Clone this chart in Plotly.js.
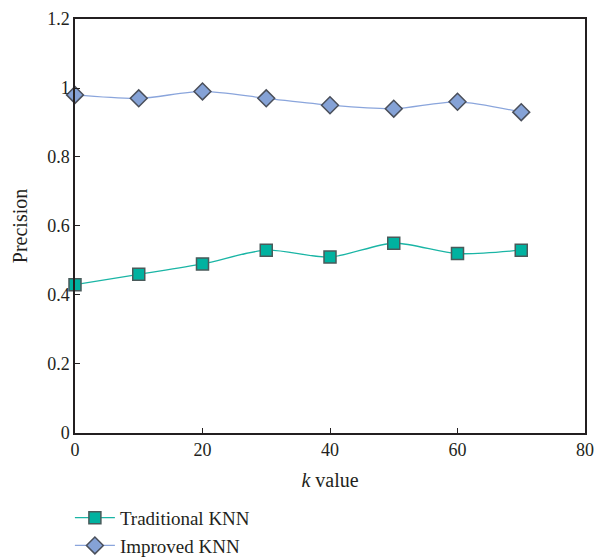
<!DOCTYPE html>
<html><head><meta charset="utf-8">
<script src="https://cdn.plot.ly/plotly-3.0.1.min.js"></script>
<style>body{margin:0;padding:0;background:#fff}#chart{width:599px;height:560px}</style>
</head><body><div id="chart"></div>
<script>
const kValues = [0, 10, 20, 30, 40, 50, 60, 70];
const traditionalKNN = [0.43, 0.46, 0.49, 0.53, 0.51, 0.55, 0.52, 0.53];
const improvedKNN = [0.98, 0.97, 0.99, 0.97, 0.95, 0.94, 0.96, 0.93];
const xTicks = [0, 20, 40, 60, 80];
const yTicks = [0, 0.2, 0.4, 0.6, 0.8, 1, 1.2];
const yTickText = ['0', '0.2', '0.4', '0.6', '0.8', '1', '1.2'];

const traces = [
  {x: kValues, y: traditionalKNN, name: 'Traditional KNN', mode: 'lines+markers', type: 'scatter', cliponaxis: false,
   line: {color: '#1ab5a5', width: 1.3, shape: 'spline', smoothing: 0.8},
   marker: {symbol: 'square', size: 12, color: '#00b2a0', line: {color: '#4a5a5a', width: 1.5}}},
  {x: kValues, y: improvedKNN, name: 'Improved KNN', mode: 'lines+markers', type: 'scatter', cliponaxis: false,
   line: {color: '#8aa5dc', width: 1.3, shape: 'spline', smoothing: 0.8},
   marker: {symbol: 'diamond', size: 13, color: '#85a2d6', line: {color: '#4a4f5a', width: 1.5}}}
];
const font = {family: '"Liberation Serif", "DejaVu Serif", serif', size: 18, color: '#231f20'};
const bigFont = {family: font.family, size: 20, color: '#231f20'};
const legendFont = {family: font.family, size: 19, color: '#231f20'};
const layout = {
  width: 599, height: 560,
  margin: {l: 75, r: 14, t: 19, b: 0, autoexpand: false},
  paper_bgcolor: '#fff', plot_bgcolor: '#fff',
  font: font,
  showlegend: true,
  legend: {x: -0.01, y: 0.113, xanchor: 'left', yanchor: 'top', orientation: 'v',
    font: legendFont, tracegroupgap: 0, itemwidth: 40},
  xaxis: {range: [0, 80], tickvals: xTicks, ticks: 'inside', ticklen: 5, tickcolor: '#231f20',
    showline: true, linecolor: '#231f20', linewidth: 1.5, mirror: true, showgrid: false, zeroline: false,
    tickfont: font, automargin: false, title: {text: '<i>k</i> value', font: bigFont, standoff: 14}},
  yaxis: {range: [0, 1.2], domain: [0.2348, 1], tickvals: yTicks, ticktext: yTickText, ticks: 'inside', ticklen: 5, tickcolor: '#231f20',
    showline: true, linecolor: '#231f20', linewidth: 1.5, mirror: true, showgrid: false, zeroline: false,
    tickfont: font, automargin: false, title: {text: 'Precision', font: bigFont, standoff: 14}}
};
Plotly.newPlot('chart', traces, layout, {displayModeBar: false});
</script></body></html>
